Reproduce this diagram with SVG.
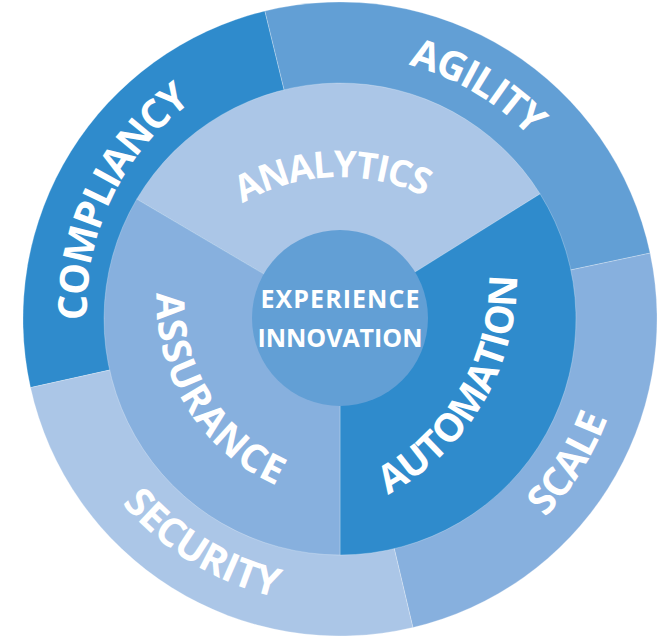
<svg xmlns="http://www.w3.org/2000/svg" width="666" height="638" viewBox="0 0 666 638">
<defs>
<style>
.lbl{font-family:"Open Sans","Liberation Sans",sans-serif;font-weight:700;fill:#ffffff;}
.outer{font-size:40px;}
.inner{font-size:39px;}
.core{font-size:25px;}
.seg{stroke:#ffffff;stroke-opacity:0.25;stroke-width:1;}
.c1{fill:#2f8bcc;}
.c2{fill:#629fd5;}
.c3{fill:#87b0de;}
.c4{fill:#abc6e7;}
</style>
<path id="p-compliancy" d="M194.2,518.3 A257.5,257.5 0 0 1 413.2,61.0"/>
<path id="p-agility" d="M142.2,148.1 A260.5,260.5 0 0 1 583.9,410.6"/>
<path id="p-scale" d="M232.3,583.0 A285,285 0 0 0 531.5,107.9"/>
<path id="p-security" d="M74.1,215.1 A285.5,285.5 0 0 0 554.3,507.7"/>
<path id="p-analytics" d="M148.6,343.8 A193.3,193.3 0 0 1 528.9,329.2"/>
<path id="p-assurance" d="M223.0,152.6 A200.8,200.8 0 0 0 431.9,488.3"/>
<path id="p-automation" d="M186.1,508.6 A245.2,245.2 0 0 0 431.2,92.6"/>
</defs>

<g id="compliancy">
<path class="seg c1" d="M340,319 L30.5,387.6 A317,317 0 0 1 264.9,11.0 Z"/>
<text class="lbl outer" text-anchor="middle"><textPath href="#p-compliancy" startOffset="50%" textLength="252" lengthAdjust="spacing">COMPLIANCY</textPath></text>
</g>
<g id="agility">
<path class="seg c2" d="M340,319 L264.9,11.0 A317,317 0 0 1 650.1,253.1 Z"/>
<text class="lbl outer" text-anchor="middle"><textPath href="#p-agility" startOffset="50%" textLength="143" lengthAdjust="spacing">AGILITY</textPath></text>
</g>
<g id="scale">
<path class="seg c3" d="M340,319 L650.1,253.1 A317,317 0 0 1 412.9,627.5 Z"/>
<text class="lbl outer" text-anchor="middle"><textPath href="#p-scale" startOffset="50%" textLength="118" lengthAdjust="spacing">SCALE</textPath></text>
</g>
<g id="security">
<path class="seg c4" d="M340,319 L412.9,627.5 A317,317 0 0 1 30.5,387.6 Z"/>
<text class="lbl outer" text-anchor="middle"><textPath href="#p-security" startOffset="50%" textLength="184" lengthAdjust="spacing">SECURITY</textPath></text>
</g>

<g id="analytics">
<path class="seg c4" d="M340,319 L136.7,199.2 A236,236 0 0 1 540.1,193.9 Z"/>
<text class="lbl inner" style="font-size:37px" text-anchor="middle"><textPath href="#p-analytics" startOffset="50%" textLength="190" lengthAdjust="spacing">ANALYTICS</textPath></text>
</g>
<g id="automation">
<path class="seg c1" d="M340,319 L540.1,193.9 A236,236 0 0 1 340,555 Z"/>
<text class="lbl inner" text-anchor="middle"><textPath href="#p-automation" startOffset="50%" textLength="267" lengthAdjust="spacing">AUTOMATION</textPath></text>
</g>
<g id="assurance">
<path class="seg c3" d="M340,319 L340,555 A236,236 0 0 1 136.7,199.2 Z"/>
<text class="lbl inner" text-anchor="middle"><textPath href="#p-assurance" startOffset="50%" textLength="241" lengthAdjust="spacing">ASSURANCE</textPath></text>
</g>

<g id="core">
<circle class="c2" cx="340" cy="318" r="88"/>
<text class="lbl core" x="340" y="308" text-anchor="middle" textLength="159" lengthAdjust="spacing">EXPERIENCE</text>
<text class="lbl core" x="340" y="347" text-anchor="middle" textLength="165" lengthAdjust="spacing">INNOVATION</text>
</g>

<g id="connectors"/>
</svg>
